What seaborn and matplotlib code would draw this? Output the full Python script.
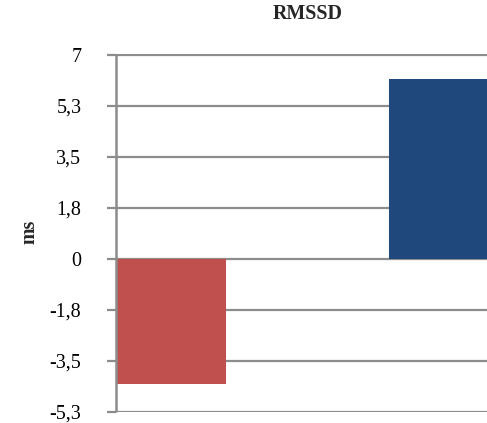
import matplotlib
matplotlib.use("Agg")
import matplotlib.pyplot as plt
import seaborn as sns
import pandas as pd
from matplotlib.ticker import FixedLocator, FixedFormatter

categories = ["Group 1", "Group 2"]
values = [-4.31, 6.16]
colors = ["#C0504D", "#1F497D"]
tick_values = [-5.25, -3.5, -1.75, 0, 1.75, 3.5, 5.25, 7]
tick_labels = ["-5,3", "-3,5", "-1,8", "0", "1,8", "3,5", "5,3", "7"]
title = "RMSSD"
ylabel = "ms"

sns.set_theme(style="white")
plt.rcParams['font.family'] = ['Liberation Serif', 'DejaVu Serif']

df = pd.DataFrame({"cat": categories, "val": values})

fig = plt.figure(figsize=(4.87, 4.23), dpi=100)
ax = fig.add_axes([116/487, 1 - 411.7/423, 1 - 116/487, (411.7 - 54.5)/423])

sns.barplot(data=df, x="cat", y="val", hue="cat", palette=colors, width=0.403,
            legend=False, ax=ax, saturation=1, edgecolor="none", linewidth=0)

ax.set_xlim(-0.2015, 1.1575)
ax.set_ylim(-5.25, 7)
ax.yaxis.set_major_locator(FixedLocator(tick_values))
ax.yaxis.set_major_formatter(FixedFormatter(tick_labels))
ax.set_axisbelow(True)
ax.grid(axis="y", color="#8C8C8C", linewidth=1.6)
ax.grid(axis="x", visible=False)
ax.set_xticks([])
ax.set_xlabel("")
ax.set_ylabel("")
for s in ["top", "right", "bottom"]:
    ax.spines[s].set_visible(False)
ax.spines["left"].set_color("#8C8C8C")
ax.spines["left"].set_linewidth(1.8)
ax.spines["left"].set_capstyle("butt")
ax.tick_params(axis="y", which="major", left=True, length=6.5, width=1.6,
               color="#8C8C8C", pad=18.5, labelsize=14.4, labelcolor="black")

fig.text(308/487, 1 - 14/423, title, ha="center", va="center",
         fontsize=14.4, fontweight="bold")
fig.text(30/487, 1 - 232/423, ylabel, ha="center", va="center",
         rotation=90, fontsize=14.4, fontweight="bold")

fig.savefig("out.png", dpi=100)
